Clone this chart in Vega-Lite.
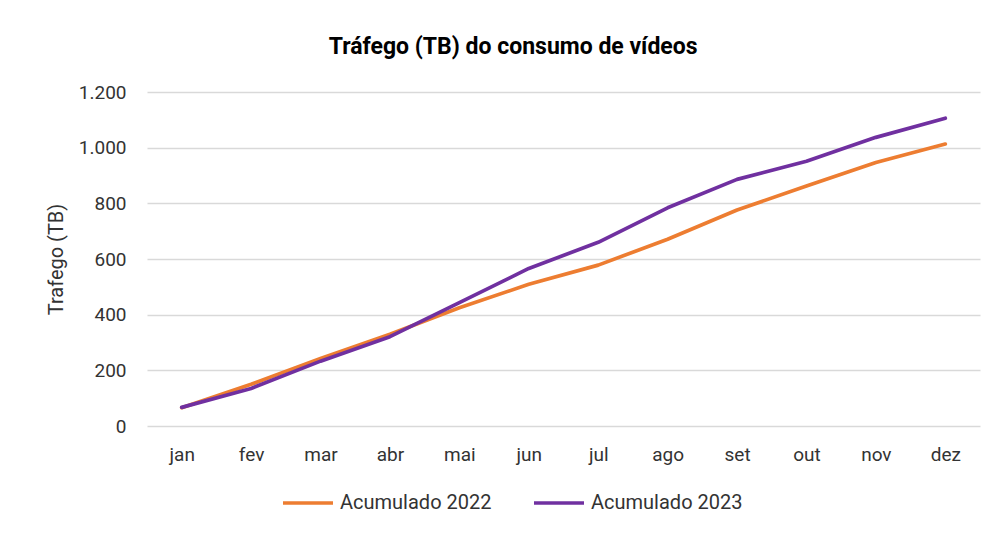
{
  "$schema": "https://vega.github.io/schema/vega-lite/v6.json",
  "width": 833,
  "height": 334,
  "padding": {"left": 46, "top": 36, "right": 18, "bottom": 5},
  "background": "white",
  "title": {
    "text": "Tráfego (TB) do consumo de vídeos",
    "font": "Roboto",
    "fontSize": 23,
    "fontWeight": "bold",
    "color": "#000000",
    "anchor": "middle",
    "frame": "bounds",
    "offset": 24
  },
  "data": {
    "values": [
      {"mes": "jan", "serie": "Acumulado 2022", "valor": 66},
      {"mes": "fev", "serie": "Acumulado 2022", "valor": 150},
      {"mes": "mar", "serie": "Acumulado 2022", "valor": 243},
      {"mes": "abr", "serie": "Acumulado 2022", "valor": 330},
      {"mes": "mai", "serie": "Acumulado 2022", "valor": 425},
      {"mes": "jun", "serie": "Acumulado 2022", "valor": 509},
      {"mes": "jul", "serie": "Acumulado 2022", "valor": 578},
      {"mes": "ago", "serie": "Acumulado 2022", "valor": 671},
      {"mes": "set", "serie": "Acumulado 2022", "valor": 776},
      {"mes": "out", "serie": "Acumulado 2022", "valor": 862},
      {"mes": "nov", "serie": "Acumulado 2022", "valor": 947},
      {"mes": "dez", "serie": "Acumulado 2022", "valor": 1013},
      {"mes": "jan", "serie": "Acumulado 2023", "valor": 67},
      {"mes": "fev", "serie": "Acumulado 2023", "valor": 135},
      {"mes": "mar", "serie": "Acumulado 2023", "valor": 233},
      {"mes": "abr", "serie": "Acumulado 2023", "valor": 321},
      {"mes": "mai", "serie": "Acumulado 2023", "valor": 443},
      {"mes": "jun", "serie": "Acumulado 2023", "valor": 566},
      {"mes": "jul", "serie": "Acumulado 2023", "valor": 660},
      {"mes": "ago", "serie": "Acumulado 2023", "valor": 784},
      {"mes": "set", "serie": "Acumulado 2023", "valor": 886},
      {"mes": "out", "serie": "Acumulado 2023", "valor": 951},
      {"mes": "nov", "serie": "Acumulado 2023", "valor": 1037},
      {"mes": "dez", "serie": "Acumulado 2023", "valor": 1106}
    ]
  },
  "mark": {"type": "line", "strokeWidth": 3.7, "strokeCap": "round", "strokeJoin": "round"},
  "encoding": {
    "x": {
      "field": "mes",
      "type": "nominal",
      "sort": ["jan", "fev", "mar", "abr", "mai", "jun", "jul", "ago", "set", "out", "nov", "dez"],
      "scale": {"type": "point", "padding": 0.5},
      "axis": {
        "title": null,
        "labelAngle": 0,
        "ticks": false,
        "domain": false,
        "grid": false,
        "labelPadding": 19,
        "labelFontSize": 19,
        "labelFont": "Roboto",
        "labelColor": "#333333"
      }
    },
    "y": {
      "field": "valor",
      "type": "quantitative",
      "scale": {"domain": [0, 1200]},
      "axis": {
        "title": "Trafego (TB)",
        "titleFont": "Roboto",
        "titleFontSize": 20,
        "titleFontWeight": "normal",
        "titleColor": "#333333",
        "titlePadding": 12,
        "values": [0, 200, 400, 600, 800, 1000, 1200],
        "labelExpr": "replace(format(datum.value, ','), ',', '.')",
        "ticks": false,
        "domain": false,
        "labelPadding": 21,
        "labelFontSize": 19,
        "labelFont": "Roboto",
        "labelColor": "#333333",
        "gridColor": "#D9D9D9",
        "gridWidth": 1.5
      }
    },
    "color": {
      "field": "serie",
      "type": "nominal",
      "scale": {"domain": ["Acumulado 2022", "Acumulado 2023"], "range": ["#ED7D31", "#7030A0"]},
      "legend": {
        "title": null,
        "orient": "none",
        "legendX": 134,
        "legendY": 384,
        "direction": "horizontal",
        "symbolType": "stroke",
        "symbolSize": 2500,
        "symbolStrokeWidth": 3.7,
        "labelFont": "Roboto",
        "labelFontSize": 20,
        "labelColor": "#333333",
        "labelOffset": 5,
        "columnPadding": 34
      }
    }
  },
  "config": {
    "view": {"stroke": null}
  }
}
